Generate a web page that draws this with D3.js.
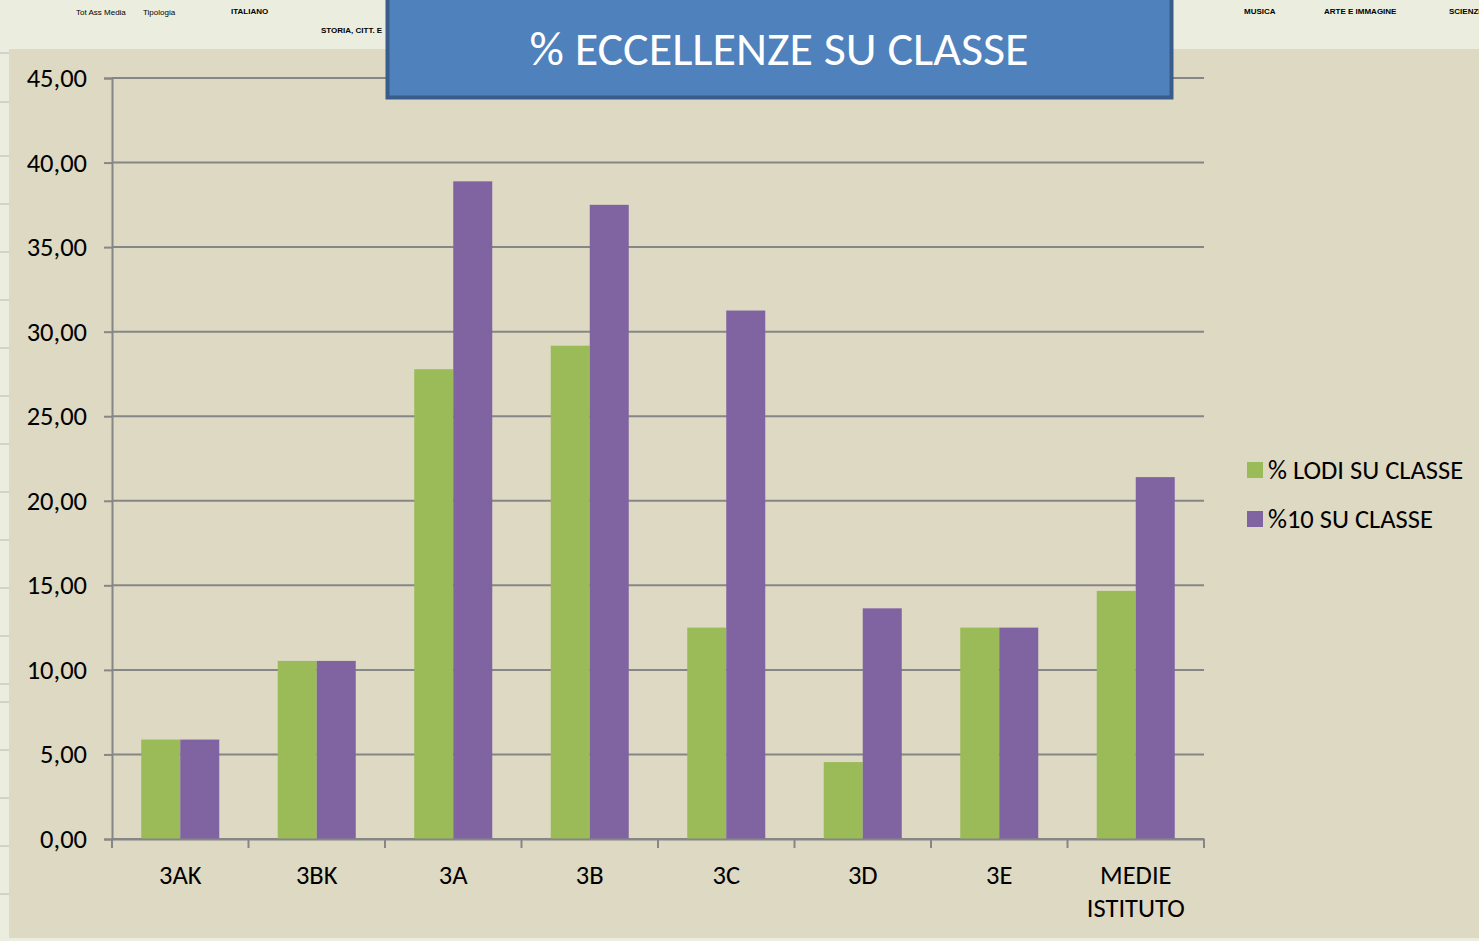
<!DOCTYPE html>
<html><head><meta charset="utf-8">
<script src="https://cdn.jsdelivr.net/npm/d3@7"></script>
<style>html,body{margin:0;padding:0;background:#EBEEDF;overflow:hidden}</style>
</head><body>
<svg id="c" width="1479" height="941"></svg>
<script>
const categories = ["3AK","3BK","3A","3B","3C","3D","3E","MEDIE ISTITUTO"];
const seriesNames = ["% LODI SU CLASSE","%10 SU CLASSE"];
const lodi = [5.88,10.53,27.78,29.17,12.50,4.55,12.50,14.67];
const dieci = [5.88,10.53,38.89,37.50,31.25,13.64,12.50,21.40];
const yTicks = [0,5,10,15,20,25,30,35,40,45];
const colors = ["#9BBB59","#8064A2"];
const headerLabels = [
  {t:"Tot Ass Media",x:76,y:15,b:false},
  {t:"Tipologia",x:143,y:15,b:false},
  {t:"ITALIANO",x:231,y:14,b:true},
  {t:"STORIA, CITT. E",x:321,y:33,b:true},
  {t:"MUSICA",x:1244,y:14,b:true},
  {t:"ARTE E IMMAGINE",x:1324,y:14,b:true},
  {t:"SCIENZE",x:1449,y:14,b:true}
];

const svg = d3.select("#c");
const font = "Carlito, Calibri, 'Open Sans', sans-serif";
const fs = 26.5;

svg.selectAll("text.hdr").data(headerLabels).join("text")
  .attr("x",d=>d.x).attr("y",d=>d.y)
  .attr("font-family","Arial, 'Liberation Sans', sans-serif")
  .attr("font-size",8).attr("font-weight",d=>d.b?"bold":"normal")
  .attr("fill","#000").text(d=>d.t);

const rowLines=[53,102,156,204,252,300,348,396,444,492,540,588,636,684,702,750,798,846,894];
svg.selectAll("line.row").data(rowLines).join("line")
  .attr("x1",0).attr("x2",9).attr("y1",d=>d).attr("y2",d=>d)
  .attr("stroke","#B8B8B8").attr("stroke-width",1);

svg.append("rect").attr("x",9).attr("y",49).attr("width",1470).attr("height",889).attr("fill","#DDD9C3");

const m={l:112,r:1204,t:78,b:839};
const x = d3.scaleBand().domain(categories).range([m.l,m.r]).paddingInner(0).paddingOuter(0);
const y = d3.scaleLinear().domain([0,45]).range([m.b,m.t]);
const inner = d3.scaleBand().domain([0,1]).range([0,x.bandwidth()]).paddingInner(0).paddingOuter(0.75);

svg.append("g").selectAll("line").data(yTicks).join("line")
  .attr("x1",m.l).attr("x2",m.r).attr("y1",d=>y(d)).attr("y2",d=>y(d))
  .attr("stroke","#868686").attr("stroke-width",2);

const g = svg.append("g");
categories.forEach((c,i)=>{
  [lodi[i],dieci[i]].forEach((v,s)=>{
    g.append("rect")
      .attr("x",x(c)+inner(s)).attr("width",inner.bandwidth())
      .attr("y",y(v)).attr("height",y(0)-y(v))
      .attr("fill",colors[s]);
  });
});

const ya = svg.append("g").attr("transform",`translate(${m.l},0)`)
  .call(d3.axisLeft(y).tickValues(yTicks).tickSize(8).tickPadding(17)
    .tickFormat(d=>d3.format(".2f")(d).replace(".",",")));
ya.select(".domain").attr("stroke","#868686").attr("stroke-width",2);
ya.selectAll(".tick line").attr("stroke","#868686").attr("stroke-width",2);
ya.selectAll("text").attr("font-family",font).attr("font-size",fs).attr("fill","#000");

const xa = svg.append("g").attr("transform",`translate(0,${m.b})`)
  .call(d3.axisBottom(x).tickSize(0).tickFormat(""));
xa.select(".domain").attr("stroke","#868686").attr("stroke-width",2);
const bounds = categories.map(c=>x(c)).concat([m.r]);
xa.selectAll("line.bt").data(bounds).join("line").attr("class","bt")
  .attr("x1",d=>d).attr("x2",d=>d).attr("y1",0).attr("y2",9)
  .attr("stroke","#868686").attr("stroke-width",2);
xa.selectAll("text.cl").data(categories).join("text").attr("class","cl")
  .attr("text-anchor","middle").attr("font-family",font).attr("font-size",fs).attr("fill","#000")
  .each(function(d){
    const words=d.split(" ");
    const t=d3.select(this);
    words.forEach((w,k)=>t.append("tspan").attr("x",x(d)+x.bandwidth()/2).attr("y",45+k*33).text(w));
  });

const lg = svg.append("g");
seriesNames.forEach((n,i)=>{
  lg.append("rect").attr("x",1247).attr("y",462+i*49).attr("width",16).attr("height",16).attr("fill",colors[i]);
  lg.append("text").attr("x",1268).attr("y",479+i*49).attr("font-family",font).attr("font-size",fs).attr("fill","#000").text(n);
});

svg.append("rect").attr("x",387.5).attr("y",-2).attr("width",784).attr("height",99.5)
  .attr("fill","#4F81BD").attr("stroke","#385D8A").attr("stroke-width",4);
svg.append("text").attr("x",779).attr("y",65).attr("text-anchor","middle")
  .attr("font-family",font).attr("font-size",48).attr("fill","#fff").text("% ECCELLENZE SU CLASSE");

svg.append("rect").attr("x",0).attr("y",938).attr("width",1479).attr("height",3).attr("fill","#EBEEDF");
</script>
</body></html>
